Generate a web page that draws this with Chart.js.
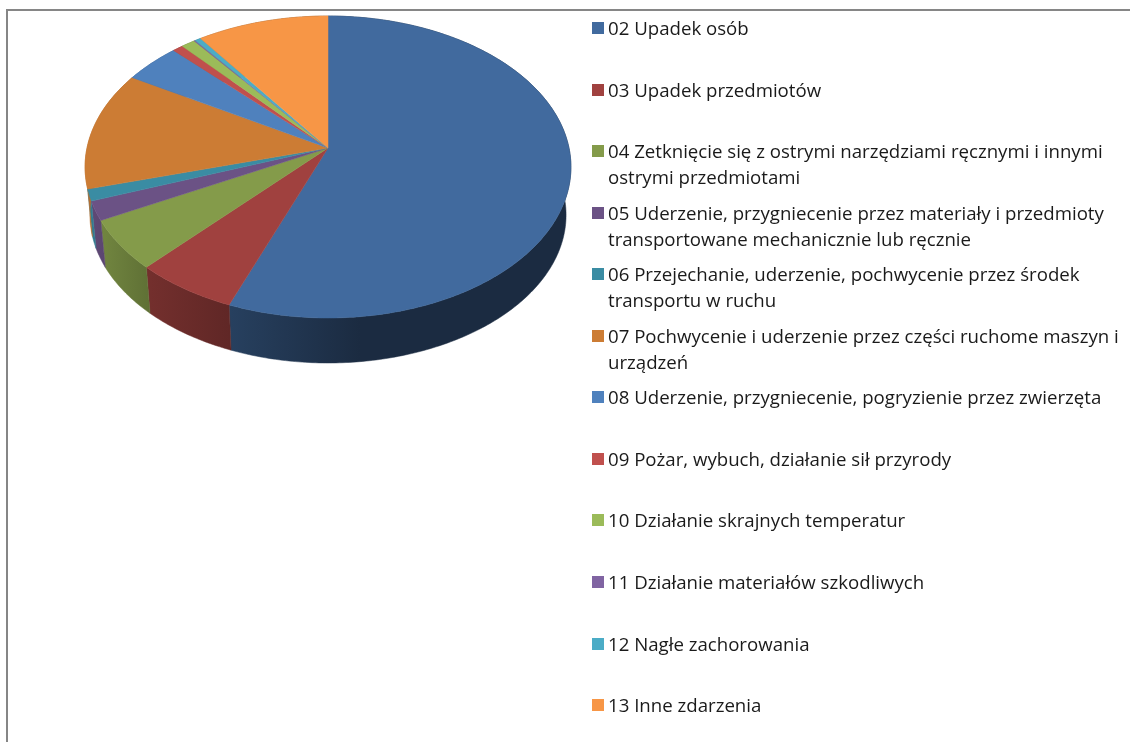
<!DOCTYPE html>
<html lang="pl">
<head>
<meta charset="utf-8">
<title>Wypadki</title>
<script src="https://cdn.jsdelivr.net/npm/chart.js@4"></script>
<style>
    html, body { margin: 0; padding: 0; background: #fff; overflow: hidden; }
    #wrap { position: relative; width: 1130px; height: 742px; }
    #frame { position: absolute; left: 6px; top: 9px; right: -4px; bottom: -4px; border: 2px solid #868686; }
    canvas { position: absolute; left: 0; top: 0; }
    .swatch { position: absolute; left: 592px; width: 12px; height: 12px; }
    .label { position: absolute; left: 608px; width: 520px; white-space: pre-line;
             font: 18.65px/26px "Open Sans", sans-serif; color: #1a1a1a; }
</style>
</head>
<body>
<div id="wrap">
    <div id="frame"></div>
    <canvas id="chart" width="1130" height="742"></canvas>
    <div id="legend"></div>
</div>
<script>
const categories = [
    "02 Upadek osób",
    "03 Upadek przedmiotów",
    "04 Zetknięcie się z ostrymi narzędziami ręcznymi i innymi\nostrymi przedmiotami",
    "05 Uderzenie, przygniecenie przez materiały i przedmioty\ntransportowane mechanicznie lub ręcznie",
    "06 Przejechanie, uderzenie, pochwycenie przez środek\ntransportu w ruchu",
    "07 Pochwycenie i uderzenie przez części ruchome maszyn i\nurządzeń",
    "08 Uderzenie, przygniecenie, pogryzienie przez zwierzęta",
    "09 Pożar, wybuch, działanie sił przyrody",
    "10 Działanie skrajnych temperatur",
    "11 Działanie materiałów szkodliwych",
    "12 Nagłe zachorowania",
    "13 Inne zdarzenia"
];
const shares = [55.9, 6.1, 5.4, 2.05, 1.25, 12.7, 4.3, 0.8, 1.05, 0.1, 0.45, 9.9];
const colors = ["#416A9E", "#A0413F", "#849B4A", "#6B5285", "#3A8CA3", "#CC7C34",
                "#4F81BD", "#C0504D", "#9BBB59", "#8064A2", "#4BACC6", "#F79646"];

// the side wall gets darker from left to right
const wallShade = [[84, 0.9], [105, 0.85], [150, 0.72], [230, 0.6], [360, 0.41], [570, 0.41]];

// perspective of the pie: top plane and bottom plane
const PERSP = 0.1258, SQUASH = 0.6166, SHIFT_Y = -93, BOTTOM_SCALE = 0.98, BOTTOM_DROP = 48.4;

function project(arc, angle, low) {
    const u = Math.cos(angle), v = Math.sin(angle);
    const w = 1 - PERSP * v;
    const s = low ? BOTTOM_SCALE : 1;
    return {
        x: arc.x + s * arc.outerRadius * u / w,
        y: arc.y + SHIFT_Y + (low ? BOTTOM_DROP : 0) + s * arc.outerRadius * SQUASH * v / w
    };
}

function traceRim(ctx, arc, from, to, low, first) {
    const steps = Math.max(2, Math.ceil(Math.abs(to - from) * 80));
    for (let i = 0; i <= steps; i++) {
        const p = project(arc, from + (to - from) * i / steps, low);
        if (i === 0 && first) ctx.moveTo(p.x, p.y);
        else ctx.lineTo(p.x, p.y);
    }
}

function shade(hex, f) {
    const n = parseInt(hex.slice(1), 16);
    return "rgb(" + Math.round((n >> 16) * f) + "," + Math.round(((n >> 8) & 255) * f) + "," + Math.round((n & 255) * f) + ")";
}

const pie3d = {
    id: "pie3d",
    beforeDatasetDraw(chart, args) {
        const ctx = chart.ctx;
        const arcs = args.meta.data;
        const x0 = wallShade[0][0], x1 = wallShade[wallShade.length - 1][0];

        // walls first, the top surface covers whatever is behind
        arcs.forEach((arc, i) => {
            const g = ctx.createLinearGradient(x0, 0, x1, 0);
            wallShade.forEach(s => g.addColorStop((s[0] - x0) / (x1 - x0), shade(colors[i], s[1])));
            ctx.beginPath();
            traceRim(ctx, arc, arc.startAngle, arc.endAngle, false, true);
            traceRim(ctx, arc, arc.endAngle, arc.startAngle, true, false);
            ctx.closePath();
            ctx.fillStyle = g;
            ctx.strokeStyle = g;
            ctx.lineWidth = 0.5;
            ctx.fill();
            ctx.stroke();
        });

        arcs.forEach((arc, i) => {
            ctx.beginPath();
            ctx.moveTo(arc.x, arc.y + SHIFT_Y);
            traceRim(ctx, arc, arc.startAngle, arc.endAngle, false, false);
            ctx.closePath();
            ctx.fillStyle = colors[i];
            ctx.strokeStyle = colors[i];
            ctx.lineWidth = 0.5;
            ctx.fill();
            ctx.stroke();
        });
        return false;
    }
};

new Chart(document.getElementById("chart"), {
    type: "pie",
    data: {
        labels: categories,
        datasets: [{ data: shares, backgroundColor: colors, borderWidth: 0 }]
    },
    options: {
        responsive: false,
        animation: false,
        events: [],
        layout: { padding: { left: 87, right: 561, top: 0, bottom: 260 } },
        plugins: { legend: { display: false }, tooltip: { enabled: false } }
    },
    plugins: [pie3d]
});

const legend = document.getElementById("legend");
categories.forEach((name, i) => {
    const y = 28 + i * 61.55;
    const swatch = document.createElement("div");
    swatch.className = "swatch";
    swatch.style.top = Math.round(y - 6) + "px";
    swatch.style.background = colors[i];
    const label = document.createElement("div");
    label.className = "label";
    label.style.top = Math.round(y - 13) + "px";
    label.textContent = name;
    legend.appendChild(swatch);
    legend.appendChild(label);
});
</script>
</body>
</html>
